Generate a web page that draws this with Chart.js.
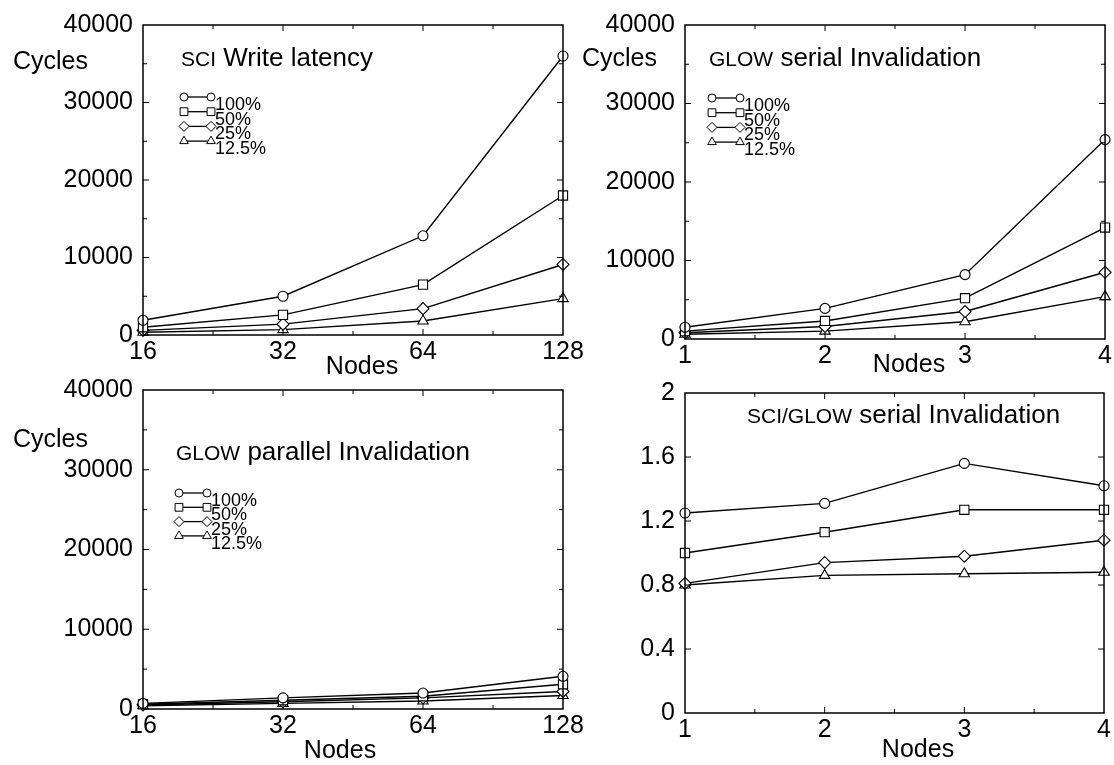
<!DOCTYPE html>
<html>
<head>
<meta charset="utf-8">
<script src="https://cdn.jsdelivr.net/npm/chart.js@4/dist/chart.umd.min.js"></script>
<style>
  body { margin: 0; background: #fff; width: 1114px; height: 765px; position: relative; overflow: hidden; }
  canvas { position: absolute; }
</style>
</head>
<body>
<canvas id="p1"></canvas>
<canvas id="p2"></canvas>
<canvas id="p3"></canvas>
<canvas id="p4"></canvas>
<script>
// x categories
const nodesPow = ["16", "32", "64", "128"];
const nodesLin = ["1", "2", "3", "4"];
const seriesNames = ["100%", "50%", "25%", "12.5%"];

// SCI write latency (cycles)
const sciWrite100 = [1900, 5000, 12800, 36000];
const sciWrite50 = [1000, 2600, 6500, 18000];
const sciWrite25 = [600, 1400, 3400, 9100];
const sciWrite12 = [350, 700, 1800, 4700];

// GLOW serial invalidation (cycles)
const glowSerial100 = [1500, 3900, 8200, 25400];
const glowSerial50 = [1000, 2300, 5200, 14200];
const glowSerial25 = [800, 1600, 3500, 8500];
const glowSerial12 = [600, 1000, 2200, 5400];

// GLOW parallel invalidation (cycles)
const glowParallel100 = [700, 1400, 2000, 4100];
const glowParallel50 = [600, 1100, 1600, 3100];
const glowParallel25 = [500, 900, 1400, 2200];
const glowParallel12 = [400, 700, 1000, 1700];

// SCI / GLOW serial ratio
const ratio100 = [1.25, 1.31, 1.56, 1.42];
const ratio50 = [1.0, 1.13, 1.27, 1.27];
const ratio25 = [0.81, 0.94, 0.98, 1.08];
const ratio12 = [0.80, 0.86, 0.87, 0.88];

// y axis ticks
const cyclesMax = 40000, cyclesStep = 10000, cyclesMinor = 5000;
const ratioMax = 2, ratioStep = 0.4;

const FONT = "'Liberation Sans', Arial, Helvetica, sans-serif";
const styles = ["circle", "rect", "rectRot", "triangle"];
const radii = [5, 6.5, 6, 6];

const decor = {
  id: "decor",
  afterDatasetsDraw(chart, args, p) {
    const ctx = chart.ctx, a = chart.chartArea;
    const xs = chart.scales.x, ys = chart.scales.y;
    ctx.save();
    ctx.strokeStyle = "#000";
    ctx.lineWidth = 1.5;
    ctx.strokeRect(a.left, a.top, a.right - a.left, a.bottom - a.top);

    // inward tick marks
    ctx.lineWidth = 1;
    ctx.beginPath();
    const n = chart.data.labels.length;
    for (let i = 0.5; i < n - 1; i += 0.5) {
      const x = xs.getPixelForValue(i);
      const len = Number.isInteger(i) ? 6 : 4;
      ctx.moveTo(x, a.bottom); ctx.lineTo(x, a.bottom - len);
      ctx.moveTo(x, a.top); ctx.lineTo(x, a.top + len);
    }
    const minor = p.yMinor || p.yStep;
    for (let v = minor; v < p.yMax - 1e-9; v += minor) {
      const y = ys.getPixelForValue(v);
      const major = Math.abs(v / p.yStep - Math.round(v / p.yStep)) < 1e-6;
      const len = major ? 6 : 4;
      ctx.moveTo(a.left, y); ctx.lineTo(a.left + len, y);
      ctx.moveTo(a.right, y); ctx.lineTo(a.right - len, y);
    }
    ctx.stroke();

    // texts (page coords -> canvas coords)
    ctx.fillStyle = "#000";
    ctx.textBaseline = "alphabetic";
    const tx = x => x - p.ox, ty = y => y - p.oy;
    ctx.font = "25px " + FONT;
    if (p.yTitle) ctx.fillText(p.yTitle, tx(p.yTitleX), ty(p.yTitleY));
    ctx.textAlign = "center";
    ctx.fillText("Nodes", tx(p.nodesX), ty(p.nodesY));
    ctx.textAlign = "left";

    // title with small caps prefix
    ctx.font = "21px " + FONT;
    ctx.fillText(p.titleCaps, tx(p.titleX), ty(p.titleY));
    const w = ctx.measureText(p.titleCaps).width;
    ctx.font = "26px " + FONT;
    ctx.fillText(p.titleRest, tx(p.titleX) + w, ty(p.titleY));

    // legend
    if (p.legend) {
      const L = p.legend;
      ctx.font = "18px " + FONT;
      chart.data.datasets.forEach((ds, i) => {
        const y = ty(L.y + i * L.dy);
        const x1 = tx(L.x1), x2 = tx(L.x2);
        ctx.strokeStyle = "#000";
        ctx.lineWidth = 1.3;
        ctx.beginPath(); ctx.moveTo(x1, y); ctx.lineTo(x2, y); ctx.stroke();
        ctx.fillStyle = "#fff";
        ctx.lineWidth = 1;
        const opt = { pointStyle: styles[i], radius: radii[i] - 1, rotation: 0, borderWidth: 1 };
        Chart.helpers.drawPoint(ctx, opt, x1, y);
        Chart.helpers.drawPoint(ctx, opt, x2, y);
        ctx.fillStyle = "#000";
        ctx.fillText(ds.label, x2 + 4, y + 13);
      });
    }
    ctx.restore();
  }
};

function makePanel(id, p, labels, series) {
  const cv = document.getElementById(id);
  cv.width = p.w; cv.height = p.h;
  cv.style.left = p.ox + "px"; cv.style.top = p.oy + "px";
  const datasets = series.map((data, i) => ({
    label: seriesNames[i],
    data: data,
    borderColor: "#000",
    borderWidth: 1.4,
    pointStyle: styles[i],
    pointRadius: radii[i],
    pointBorderWidth: 1.1,
    pointBorderColor: "#000",
    pointBackgroundColor: "#fff",
    tension: 0,
    clip: false
  }));
  return new Chart(cv, {
    type: "line",
    data: { labels: labels, datasets: datasets },
    plugins: [decor],
    options: {
      responsive: false,
      animation: false,
      layout: { padding: { left: 0, top: p.top, right: p.w - p.right, bottom: 0 } },
      plugins: { legend: { display: false }, tooltip: { enabled: false }, decor: p },
      scales: {
        x: {
          type: "category",
          offset: false,
          grid: { display: false, drawTicks: false },
          border: { display: false },
          ticks: { color: "#000", font: { family: FONT, size: 25 }, padding: 2, maxRotation: 0, autoSkip: false },
          afterFit: s => { s.height = p.h - p.bottom; }
        },
        y: {
          min: 0,
          max: p.yMax,
          grid: { display: false, drawTicks: false },
          border: { display: false },
          ticks: { stepSize: p.yStep, color: "#000", font: { family: FONT, size: 25 }, padding: 10, callback: v => String(v) },
          afterFit: s => { s.width = p.left; }
        }
      }
    }
  });
}

makePanel("p1", {
  ox: 0, oy: 0, w: 600, h: 382, left: 143, right: 563, top: 18, bottom: 335,
  yMax: cyclesMax, yStep: cyclesStep, yMinor: cyclesMinor,
  yTitle: "Cycles", yTitleX: 13, yTitleY: 69, nodesX: 362, nodesY: 374,
  titleCaps: "SCI", titleRest: " Write latency", titleX: 181, titleY: 66,
  legend: { x1: 184, x2: 211, y: 97, dy: 14.7 }
}, nodesPow, [sciWrite100, sciWrite50, sciWrite25, sciWrite12]);

makePanel("p2", {
  ox: 560, oy: 0, w: 554, h: 382, left: 125, right: 548, top: 18, bottom: 339,
  yMax: cyclesMax, yStep: cyclesStep, yMinor: cyclesMinor,
  yTitle: "Cycles", yTitleX: 582, yTitleY: 66, nodesX: 909, nodesY: 372,
  titleCaps: "GLOW", titleRest: " serial Invalidation", titleX: 709, titleY: 66,
  legend: { x1: 712, x2: 740, y: 98, dy: 14.7 }
}, nodesLin, [glowSerial100, glowSerial50, glowSerial25, glowSerial12]);

makePanel("p3", {
  ox: 0, oy: 360, w: 600, h: 405, left: 143, right: 563, top: 30, bottom: 349,
  yMax: cyclesMax, yStep: cyclesStep, yMinor: cyclesMinor,
  yTitle: "Cycles", yTitleX: 13, yTitleY: 447, nodesX: 340, nodesY: 758,
  titleCaps: "GLOW", titleRest: " parallel Invalidation", titleX: 176, titleY: 460,
  legend: { x1: 179, x2: 207, y: 493, dy: 14.3 }
}, nodesPow, [glowParallel100, glowParallel50, glowParallel25, glowParallel12]);

makePanel("p4", {
  ox: 560, oy: 360, w: 554, h: 405, left: 125, right: 544, top: 33, bottom: 353,
  yMax: ratioMax, yStep: ratioStep,
  yTitle: null, nodesX: 918, nodesY: 757,
  titleCaps: "SCI/GLOW", titleRest: " serial Invalidation", titleX: 747, titleY: 423,
  legend: null
}, nodesLin, [ratio100, ratio50, ratio25, ratio12]);
</script>
</body>
</html>
